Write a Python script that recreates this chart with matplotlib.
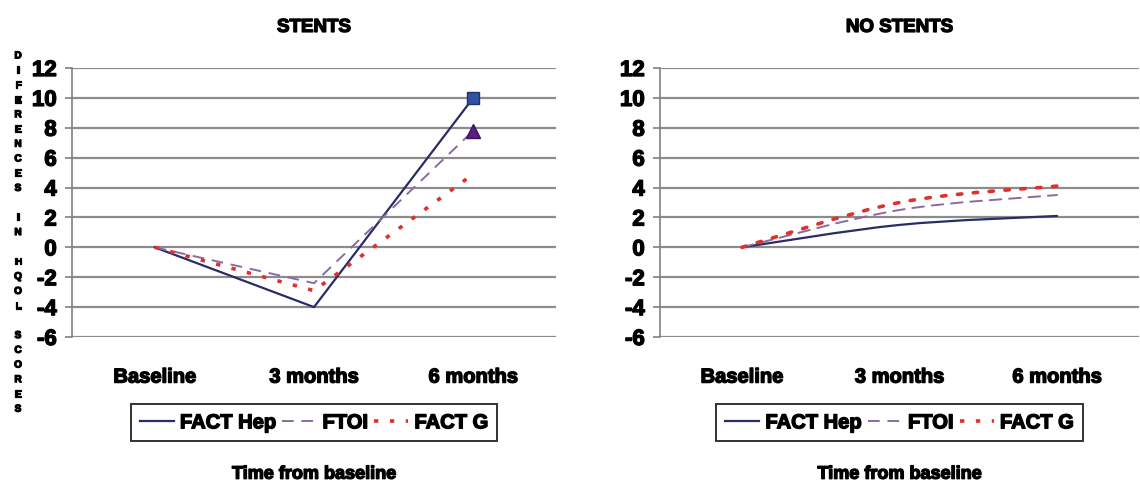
import numpy as np
import matplotlib
matplotlib.use("Agg")
import matplotlib.pyplot as plt
import matplotlib.patheffects as pe
from matplotlib.path import Path
from matplotlib.patches import PathPatch
from matplotlib.lines import Line2D

categories = ["Baseline", "3 months", "6 months"]
series_names = ["FACT Hep", "FTOI", "FACT G"]

stents_fact_hep = [0, -4, 10]
stents_ftoi = [0, -2.4, 7.8]
stents_fact_g = [0, -2.9, 4.9]

nostents_fact_hep = [0, 1.5, 2.1]
nostents_ftoi = [0, 2.5, 3.5]
nostents_fact_g = [0, 3.0, 4.1]

yticks = [-6, -4, -2, 0, 2, 4, 6, 8, 10, 12]

colors = ["#2a2c66", "#8a6aa0", "#e0302a"]
styles = [dict(ls="-", lw=1.6), dict(ls=(0, (6, 4)), lw=1.4), dict(ls=(0, (1.2, 3.2)), lw=2.6)]

plt.rcParams['font.family'] = ['Liberation Sans', 'DejaVu Sans']
fig = plt.figure(figsize=(11.4, 4.82), dpi=100)

W, H = 1140, 482
heavy = [pe.withStroke(linewidth=1.0, foreground="black")]


def ax_rect(x0, x1, ytop, ybot):
    return [x0 / W, 1 - ybot / H, (x1 - x0) / W, (ybot - ytop) / H]

ax1 = fig.add_axes(ax_rect(72, 556, 68, 337))
ax2 = fig.add_axes(ax_rect(660, 1139, 68, 337))


def smooth_path(xs, ys):
    pts = np.column_stack([xs, ys]).astype(float)
    n = len(pts)
    verts = [pts[0]]
    codes = [Path.MOVETO]
    for i in range(n - 1):
        p0 = pts[i - 1] if i > 0 else pts[i]
        p1 = pts[i]
        p2 = pts[i + 1]
        p3 = pts[i + 2] if i + 2 < n else pts[i + 1]
        c1 = p1 + (p2 - p0) / 6.0
        c2 = p2 - (p3 - p1) / 6.0
        verts += [c1, c2, p2]
        codes += [Path.CURVE4] * 3
    return Path(verts, codes)


def setup(ax, title):
    ax.set_xlim(-0.52, 2.52)
    ax.set_ylim(-6, 12)
    ax.set_yticks(yticks)
    ax.set_yticklabels([str(v) for v in yticks], fontsize=16, fontweight="bold")
    ax.set_xticks(range(len(categories)))
    ax.set_xticklabels(categories, fontsize=14.5, fontweight="bold")
    for t in ax.get_xticklabels() + ax.get_yticklabels():
        t.set_path_effects(heavy)
    ax.tick_params(axis="x", length=0, pad=22)
    ax.tick_params(axis="y", length=5, color="#808080", width=1.2, pad=6)
    for s in ["top", "right", "bottom"]:
        ax.spines[s].set_visible(False)
    ax.spines["left"].set_color("#808080")
    ax.spines["left"].set_linewidth(1.2)
    ax.grid(axis="y", color="#8c8c8c", lw=1.6)
    ax.set_axisbelow(True)
    t = ax.set_title(title, fontsize=13.5, fontweight="bold", pad=26)
    t.set_path_effects(heavy)
    handles = [Line2D([], [], color=c, **st) for c, st in zip(colors, styles)]
    leg = ax.legend(handles, series_names, loc="upper center", bbox_to_anchor=(0.5, -0.25),
                    ncol=3, frameon=True, fancybox=False, edgecolor="black",
                    prop=dict(weight="bold", size=14.5), handlelength=1.7, handletextpad=0.3,
                    columnspacing=0.3, borderpad=0.45, borderaxespad=0)
    leg.get_frame().set_linewidth(1.4)
    for tx in leg.get_texts():
        tx.set_path_effects(heavy)
    tt = ax.text(0.5, -0.51, "Time from baseline", transform=ax.transAxes, ha="center",
                 va="center", fontsize=13, fontweight="bold")
    tt.set_path_effects(heavy)


setup(ax1, "STENTS")
setup(ax2, "NO STENTS")

x = np.arange(len(categories))
for ys, c, st in zip([stents_fact_hep, stents_ftoi, stents_fact_g], colors, styles):
    ax1.plot(x, ys, color=c, **st)
ax1.plot([x[2]], [stents_fact_hep[2]], marker="s", ms=8, color="#3050a0", mec="#203070")
ax1.plot([x[2]], [stents_ftoi[2]], marker="^", ms=10, color="#5a2080", mec="#401060")

for ys, c, st in zip([nostents_fact_hep, nostents_ftoi, nostents_fact_g], colors, styles):
    p = PathPatch(smooth_path(x, ys), facecolor="none", edgecolor=c, lw=st["lw"],
                  linestyle=st["ls"], capstyle="round")
    ax2.add_patch(p)

ylab = "DIFERENCES IN HQOL SCORES"
yt = fig.text(18 / W, 1 - 232 / H, "\n".join(ylab), ha="center", va="center", fontsize=7.2,
              fontweight="bold", linespacing=1.59)
yt.set_path_effects([pe.withStroke(linewidth=0.9, foreground="black")])

fig.savefig("out.png", dpi=100)
